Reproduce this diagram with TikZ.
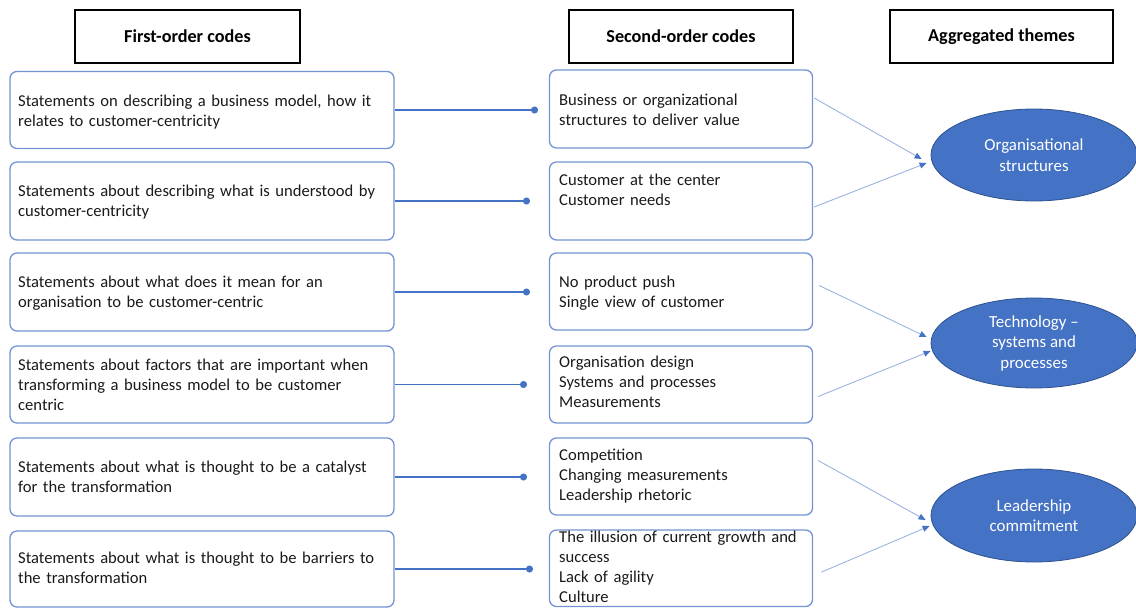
\documentclass[tikz,border=0pt]{standalone}
\usepackage{fontspec}
\setmainfont{Carlito}
\usetikzlibrary{arrows.meta,shapes.geometric}
\definecolor{boxblue}{HTML}{7393D3}
\definecolor{linkblue}{HTML}{4472C4}
\definecolor{feedblue}{HTML}{9CB3E0}
\definecolor{ovalfill}{HTML}{4472C4}
\definecolor{ovaledge}{HTML}{2F528F}
\definecolor{ink}{HTML}{1A1A1A}

\begin{document}
\begin{tikzpicture}[x=1pt,y=-1pt,
  txt/.style={font=\fontsize{16.6}{20.3}\selectfont, text=ink},
  header/.style={draw=black, line width=1.6pt, inner sep=0pt,
    minimum height=53pt, font=\fontsize{18.2}{22}\selectfont\bfseries, text=black},
  codebox/.style={draw=boxblue, line width=1.3pt, rounded corners=7pt, inner sep=0pt},
  firstbox/.style={codebox, minimum width=384pt},
  secondbox/.style={codebox, minimum width=263pt},
  codetext/.style={txt, inner sep=0pt, anchor=base west, align=left, text width=#1},
  theme/.style={ellipse, draw=ovaledge, line width=0.8pt, fill=ovalfill,
    minimum width=206pt, inner sep=0pt, align=center, text=white,
    font=\fontsize{16.9}{20.5}\selectfont},
  link/.style={draw=linkblue, line width=1.5pt, -{Circle[length=7pt]}},
  feed/.style={draw=feedblue, line width=0.9pt,
    -{Triangle[length=7pt,width=6pt,fill=linkblue,color=linkblue]}}
]
\useasboundingbox (0,0) rectangle (1136,608);

% column headers
\node[header, minimum width=225pt] (h1) at (187.5,36.5) {First-order codes};
\node[header, minimum width=224pt] (h2) at (681,36.5) {Second-order codes};
\node[header, minimum width=223pt] (h3) at (1001.5,36.5) {Aggregated themes};

% first-order codes
\node[firstbox, minimum height=77pt] (l1) at (202,110) {};
\node[firstbox, minimum height=78pt] (l2) at (202,201) {};
\node[firstbox, minimum height=78pt] (l3) at (202,292) {};
\node[firstbox, minimum height=77pt] (l4) at (202,384.5) {};
\node[firstbox, minimum height=78pt] (l5) at (202,477) {};
\node[firstbox, minimum height=76pt] (l6) at (202,569) {};

\node[codetext=375pt] (lt1) at (18,106) {Statements on describing a business model, how it\\relates to customer-centricity};
\node[codetext=375pt] (lt2) at (18,196) {Statements about describing what is understood by\\customer-centricity};
\node[codetext=375pt] (lt3) at (18,287) {Statements about what does it mean for an\\organisation to be customer-centric};
\node[codetext=375pt] (lt4) at (18,370) {Statements about factors that are important when\\transforming a business model to be customer\\centric};
\node[codetext=375pt] (lt5) at (18,472) {Statements about what is thought to be a catalyst\\for the transformation};
\node[codetext=375pt] (lt6) at (18,563) {Statements about what is thought to be barriers to\\the transformation};

% second-order codes
\node[secondbox, minimum height=78pt] (s1) at (681,109) {};
\node[secondbox, minimum height=78pt] (s2) at (681,201) {};
\node[secondbox, minimum height=77pt] (s3) at (681,291.5) {};
\node[secondbox, minimum height=77pt] (s4) at (681,384.5) {};
\node[secondbox, minimum height=77pt] (s5) at (681,476.5) {};
\node[secondbox, minimum height=76.5pt] (s6) at (681,568.25) {};

\node[codetext=250pt] (st1) at (559,105) {Business or organizational\\structures to deliver value};
\node[codetext=250pt] (st2) at (559,185) {Customer at the center\\Customer needs};
\node[codetext=250pt] (st3) at (559,287) {No product push\\Single view of customer};
\node[codetext=250pt] (st4) at (559,367) {Organisation design\\Systems and processes\\Measurements};
\node[codetext=250pt] (st5) at (559,460) {Competition\\Changing measurements\\Leadership rhetoric};
\node[codetext=250pt] (st6) at (559,542) {The illusion of current growth and\\success\\Lack of agility\\Culture};

% aggregated themes
\node[theme, minimum height=92pt] (o1) at (1034,155) {Organisational\\structures};
\node[theme, minimum height=90pt] (o2) at (1034,343) {Technology –\\systems and\\processes};
\node[theme, minimum height=93pt] (o3) at (1034,515.5) {Leadership\\commitment};

% first-order to second-order links
\coordinate (d1) at (538,110);
\coordinate (d2) at (530,201);
\coordinate (d3) at (530,292);
\coordinate (d4) at (527,384.5);
\coordinate (d5) at (527,477);
\coordinate (d6) at (533,569);
\foreach \i in {1,...,6} {
  \draw[link] (l\i.east) -- (d\i);
}

% second-order codes feeding the themes
\draw[feed] ([shift={(1,-11)}]s1.east) -- ([shift={(-9,4)}]o1.west);
\draw[feed] ([shift={(1,6)}]s2.east) -- ([shift={(-4,8)}]o1.west);
\draw[feed] ([shift={(6,-6)}]s3.east) -- ([shift={(-4,-6)}]o2.west);
\draw[feed] ([shift={(5,12)}]s4.east) -- ([shift={(0,8)}]o2.west);
\draw[feed] ([shift={(5,-16)}]s5.east) -- ([shift={(-5,4.5)}]o3.west);
\draw[feed] ([shift={(8,4)}]s6.east) -- ([shift={(-1,10.5)}]o3.west);
\end{tikzpicture}
\end{document}
